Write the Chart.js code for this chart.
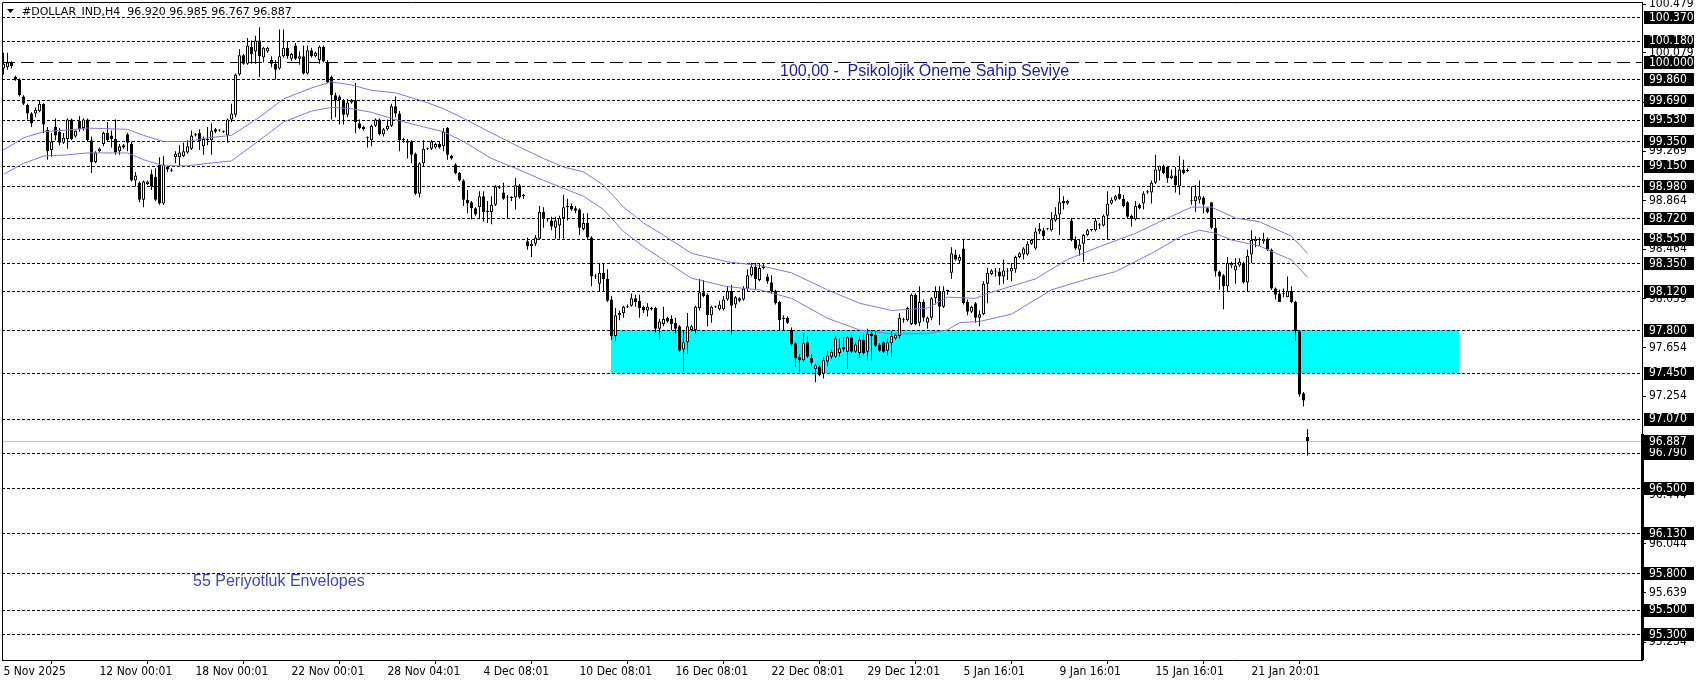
<!DOCTYPE html>
<html>
<head>
<meta charset="utf-8">
<script src="https://cdn.jsdelivr.net/npm/chart.js@4.4.1/dist/chart.umd.min.js"></script>
<style>
    html, body { margin: 0; padding: 0; background: #fff; }
</style>
</head>
<body>
<canvas id="grafico" width="1699" height="684"></canvas>
<script>
// H4 candles, 5 Nov 2025 -> 23 Jan 2026
const opens = [
    99.95, 99.96, 100.00, 99.88, 99.86, 99.72, 99.65, 99.58, 99.58, 99.60,
    99.66, 99.445, 99.28, 99.47, 99.43, 99.34, 99.37, 99.53, 99.39, 99.52,
    99.46, 99.53, 99.36, 99.18, 99.27, 99.33, 99.42, 99.40, 99.37, 99.27,
    99.32, 99.41, 99.33, 99.03, 99.01, 98.87, 99.00, 99.08, 99.06, 99.16,
    98.84, 99.14, 99.12, 99.22, 99.22, 99.23, 99.26, 99.29, 99.40, 99.42,
    99.31, 99.36, 99.36, 99.45, 99.44, 99.43, 99.40, 99.53, 99.57, 99.90,
    100.06, 99.99, 100.13, 100.09, 100.18, 100.04, 100.09, 100.02, 99.99, 99.95,
    100.05, 100.12, 100.03, 100.14, 100.03, 100.05, 99.91, 100.10, 100.05, 100.02,
    100.13, 100.00, 99.88, 99.73, 99.72, 99.69, 99.57, 99.67, 99.69, 99.50,
    99.47, 99.385, 99.36, 99.48, 99.53, 99.41, 99.45, 99.48, 99.64, 99.58,
    99.37, 99.355, 99.35, 99.25, 98.92, 99.17, 99.29, 99.29, 99.30, 99.33,
    99.31, 99.46, 99.23, 99.16, 99.09, 99.03, 98.87, 98.85, 98.80, 98.81,
    98.90, 98.775, 98.77, 98.83, 98.97, 98.93, 98.895, 98.89, 98.89, 98.99,
    98.90, 98.53, 98.49, 98.51, 98.55, 98.77, 98.71, 98.70, 98.64, 98.66,
    98.72, 98.81, 98.82, 98.80, 98.79, 98.63, 98.68, 98.56, 98.245, 98.18,
    98.27, 98.22, 98.05, 97.75, 97.92, 97.94, 97.99, 98.00, 98.06, 98.04,
    97.99, 97.96, 97.98, 97.98, 97.81, 97.85, 97.90, 97.89, 97.86, 97.83,
    97.64, 97.70, 97.80, 97.80, 97.98, 98.11, 98.09, 97.92, 97.99, 97.97,
    97.97, 98.05, 98.12, 98.01, 98.06, 98.05, 98.14, 98.25, 98.32, 98.21,
    98.31, 98.24, 98.19, 98.12, 98.03, 97.89, 97.90, 97.80, 97.69, 97.58,
    97.55, 97.70, 97.57, 97.48, 97.50, 97.44, 97.54, 97.58, 97.58, 97.61,
    97.66, 97.62, 97.74, 97.62, 97.61, 97.72, 97.62, 97.77, 97.76, 97.68,
    97.70, 97.63, 97.69, 97.73, 97.75, 97.885, 97.88, 97.85, 98.09, 97.86,
    98.03, 97.86, 97.90, 98.06, 98.12, 97.99, 98.125, 98.27, 98.42, 98.37,
    98.47, 98.03, 97.95, 98.02, 97.90, 97.93, 98.18, 98.26, 98.285, 98.28,
    98.24, 98.285, 98.28, 98.30, 98.40, 98.42, 98.42, 98.51, 98.47, 98.61,
    98.62, 98.632, 98.62, 98.70, 98.75, 98.86, 98.84, 98.70, 98.54, 98.46,
    98.51, 98.58, 98.62, 98.62, 98.66, 98.66, 98.74, 98.84, 98.87, 98.92,
    98.88, 98.85, 98.74, 98.71, 98.83, 98.84, 98.93, 98.93, 99.01, 99.11,
    99.15, 99.14, 99.05, 99.07, 98.98, 99.12, 99.112, 98.862, 98.86, 98.87,
    98.89, 98.80, 98.85, 98.64, 98.28, 98.25, 98.16, 98.33, 98.29, 98.33,
    98.35, 98.19, 98.42, 98.53, 98.54, 98.53, 98.55, 98.46, 98.14, 98.10,
    98.102, 98.07, 98.12, 98.03, 97.79, 97.28, 96.92
];
const highs = [
    100.08, 100.08, 100.01, 99.89, 99.87, 99.73, 99.66, 99.59, 99.63, 99.685,
    99.665, 99.47, 99.42, 99.54, 99.46, 99.42, 99.54, 99.54, 99.44, 99.56,
    99.54, 99.54, 99.39, 99.27, 99.30, 99.43, 99.51, 99.44, 99.53, 99.33,
    99.33, 99.42, 99.35, 99.10, 99.02, 99.03, 99.03, 99.12, 99.13, 99.22,
    99.23, 99.15, 99.13, 99.27, 99.32, 99.34, 99.36, 99.44, 99.42, 99.45,
    99.39, 99.47, 99.50, 99.46, 99.45, 99.44, 99.54, 99.66, 99.91, 100.11,
    100.07, 100.20, 100.18, 100.22, 100.29, 100.13, 100.13, 100.05, 100.02, 100.27,
    100.27, 100.17, 100.08, 100.16, 100.09, 100.14, 100.14, 100.12, 100.09, 100.14,
    100.14, 100.02, 99.89, 99.75, 99.73, 99.70, 99.70, 99.70, 99.83, 99.53,
    99.48, 99.39, 99.49, 99.54, 99.54, 99.46, 99.53, 99.66, 99.72, 99.60,
    99.38, 99.37, 99.36, 99.26, 99.18, 99.36, 99.30, 99.36, 99.34, 99.35,
    99.46, 99.47, 99.24, 99.17, 99.10, 99.04, 98.95, 98.86, 98.81, 98.94,
    98.94, 98.86, 98.90, 98.99, 98.99, 99.01, 98.91, 98.90, 99.05, 99.00,
    98.92, 98.56, 98.54, 98.58, 98.82, 98.81, 98.72, 98.73, 98.73, 98.74,
    98.91, 98.88, 98.84, 98.82, 98.80, 98.76, 98.76, 98.57, 98.26, 98.35,
    98.35, 98.30, 98.08, 97.98, 97.96, 98.00, 98.01, 98.10, 98.09, 98.09,
    98.00, 98.02, 97.99, 97.99, 97.89, 97.99, 97.91, 97.92, 97.90, 97.84,
    97.80, 97.94, 97.84, 98.00, 98.22, 98.21, 98.10, 98.00, 98.00, 98.04,
    98.08, 98.16, 98.17, 98.08, 98.07, 98.16, 98.30, 98.35, 98.35, 98.35,
    98.34, 98.26, 98.25, 98.13, 98.04, 97.92, 97.91, 97.82, 97.70, 97.60,
    97.77, 97.75, 97.60, 97.52, 97.51, 97.58, 97.63, 97.64, 97.75, 97.73,
    97.74, 97.75, 97.76, 97.70, 97.75, 97.76, 97.81, 97.80, 97.79, 97.69,
    97.71, 97.73, 97.79, 97.77, 97.94, 97.90, 97.99, 98.10, 98.10, 98.16,
    98.05, 97.91, 98.07, 98.16, 98.16, 98.16, 98.13, 98.48, 98.46, 98.42,
    98.55, 98.05, 98.00, 98.03, 97.96, 98.20, 98.31, 98.30, 98.31, 98.31,
    98.38, 98.31, 98.35, 98.41, 98.44, 98.48, 98.53, 98.55, 98.64, 98.68,
    98.64, 98.64, 98.77, 98.81, 98.97, 98.90, 98.87, 98.72, 98.57, 98.54,
    98.59, 98.63, 98.63, 98.72, 98.68, 98.75, 98.94, 98.89, 98.91, 98.98,
    98.91, 98.86, 98.75, 98.86, 98.84, 98.94, 98.95, 99.03, 99.24, 99.15,
    99.16, 99.15, 99.12, 99.14, 99.23, 99.20, 99.13, 98.98, 98.99, 99.03,
    98.90, 98.81, 98.85, 98.72, 98.29, 98.26, 98.40, 98.36, 98.39, 98.39,
    98.36, 98.46, 98.62, 98.57, 98.56, 98.60, 98.56, 98.47, 98.15, 98.13,
    98.14, 98.24, 98.16, 98.04, 97.79, 97.29, 96.985
];
const lows = [
    99.90, 99.94, 99.95, 99.85, 99.72, 99.65, 99.53, 99.47, 99.55, 99.59,
    99.42, 99.20, 99.225, 99.36, 99.32, 99.33, 99.29, 99.36, 99.38, 99.43,
    99.44, 99.35, 99.09, 99.17, 99.26, 99.31, 99.35, 99.30, 99.24, 99.24,
    99.29, 99.27, 99.02, 98.98, 98.85, 98.81, 98.99, 98.95, 98.86, 98.83,
    98.83, 99.10, 99.10, 99.17, 99.14, 99.22, 99.25, 99.28, 99.39, 99.28,
    99.24, 99.32, 99.24, 99.42, 99.43, 99.42, 99.34, 99.51, 99.55, 99.89,
    99.98, 99.98, 99.99, 99.99, 99.88, 100.00, 100.08, 99.96, 99.86, 99.94,
    100.04, 100.03, 100.01, 100.02, 99.98, 99.90, 99.90, 100.04, 100.04, 99.99,
    100.00, 99.83, 99.53, 99.55, 99.49, 99.49, 99.55, 99.66, 99.42, 99.45,
    99.44, 99.30, 99.31, 99.47, 99.40, 99.39, 99.44, 99.47, 99.55, 99.27,
    99.34, 99.21, 99.17, 98.91, 98.89, 99.14, 99.28, 99.28, 99.29, 99.29,
    99.27, 99.20, 99.20, 99.08, 99.02, 98.82, 98.76, 98.71, 98.74, 98.71,
    98.69, 98.68, 98.67, 98.82, 98.96, 98.87, 98.72, 98.86, 98.79, 98.88,
    98.88, 98.46, 98.40, 98.49, 98.54, 98.64, 98.69, 98.62, 98.55, 98.55,
    98.55, 98.70, 98.78, 98.76, 98.58, 98.62, 98.55, 98.16, 98.22, 98.12,
    98.12, 98.03, 97.72, 97.71, 97.88, 97.90, 97.98, 97.99, 97.99, 97.90,
    97.94, 97.91, 97.96, 97.78, 97.72, 97.83, 97.86, 97.80, 97.77, 97.62,
    97.46, 97.60, 97.79, 97.77, 97.96, 98.07, 97.83, 97.86, 97.98, 97.96,
    97.96, 98.04, 97.76, 97.98, 98.03, 98.04, 98.12, 98.24, 98.13, 98.20,
    98.30, 98.18, 98.10, 98.01, 97.80, 97.80, 97.85, 97.67, 97.50, 97.45,
    97.54, 97.57, 97.50, 97.37, 97.42, 97.40, 97.50, 97.56, 97.57, 97.58,
    97.62, 97.48, 97.61, 97.61, 97.57, 97.60, 97.55, 97.55, 97.66, 97.62,
    97.61, 97.59, 97.58, 97.72, 97.73, 97.86, 97.87, 97.84, 97.84, 97.83,
    97.87, 97.81, 97.88, 98.01, 97.84, 97.98, 98.09, 98.22, 98.37, 98.35,
    98.01, 97.92, 97.94, 97.86, 97.83, 97.92, 98.02, 98.25, 98.24, 98.17,
    98.18, 98.21, 98.20, 98.27, 98.39, 98.38, 98.41, 98.50, 98.46, 98.59,
    98.54, 98.62, 98.61, 98.69, 98.58, 98.79, 98.83, 98.53, 98.46, 98.41,
    98.36, 98.57, 98.61, 98.61, 98.63, 98.65, 98.54, 98.83, 98.86, 98.87,
    98.81, 98.72, 98.65, 98.70, 98.79, 98.79, 98.92, 98.84, 99.00, 99.03,
    99.08, 99.01, 99.04, 98.93, 98.91, 99.08, 99.10, 98.83, 98.77, 98.84,
    98.76, 98.76, 98.63, 98.24, 98.13, 97.97, 98.12, 98.31, 98.18, 98.32,
    98.18, 98.12, 98.35, 98.48, 98.49, 98.51, 98.45, 98.13, 98.05, 98.03,
    98.07, 98.07, 98.02, 97.71, 97.25, 97.17, 96.767
];
const closes = [
    99.99, 100.00, 99.97, 99.86, 99.73, 99.66, 99.58, 99.50, 99.61, 99.66,
    99.49, 99.27, 99.35, 99.40, 99.34, 99.38, 99.53, 99.37, 99.44, 99.45,
    99.53, 99.36, 99.18, 99.26, 99.29, 99.42, 99.36, 99.37, 99.26, 99.31,
    99.30, 99.34, 99.03, 99.07, 98.87, 99.02, 99.02, 98.98, 98.87, 98.84,
    99.16, 99.12, 99.11, 99.25, 99.26, 99.27, 99.31, 99.40, 99.41, 99.35,
    99.37, 99.37, 99.44, 99.43, 99.44, 99.43, 99.53, 99.58, 99.90, 100.06,
    99.99, 100.14, 100.07, 100.18, 100.05, 100.12, 100.12, 99.99, 99.94, 100.05,
    100.12, 100.05, 100.07, 100.03, 100.05, 99.91, 100.10, 100.05, 100.08, 100.13,
    100.01, 99.84, 99.73, 99.69, 99.69, 99.57, 99.67, 99.69, 99.51, 99.46,
    99.45, 99.38, 99.48, 99.53, 99.41, 99.45, 99.48, 99.64, 99.58, 99.36,
    99.36, 99.34, 99.24, 98.92, 99.17, 99.29, 99.29, 99.35, 99.33, 99.30,
    99.43, 99.24, 99.21, 99.09, 99.03, 98.87, 98.84, 98.80, 98.75, 98.90,
    98.77, 98.77, 98.83, 98.98, 98.98, 98.88, 98.89, 98.885, 98.99, 98.89,
    98.91, 98.49, 98.51, 98.56, 98.77, 98.71, 98.71, 98.65, 98.70, 98.72,
    98.81, 98.82, 98.79, 98.78, 98.64, 98.68, 98.56, 98.24, 98.24, 98.27,
    98.22, 98.04, 97.75, 97.92, 97.94, 97.99, 98.00, 98.06, 98.03, 97.98,
    97.96, 97.99, 97.97, 97.81, 97.87, 97.89, 97.87, 97.85, 97.81, 97.63,
    97.70, 97.83, 97.83, 97.99, 98.11, 98.08, 97.92, 97.99, 97.99, 98.01,
    98.05, 98.12, 98.00, 98.07, 98.04, 98.14, 98.25, 98.32, 98.22, 98.31,
    98.33, 98.20, 98.12, 98.02, 97.88, 97.90, 97.86, 97.68, 97.57, 97.55,
    97.69, 97.58, 97.53, 97.51, 97.43, 97.55, 97.59, 97.62, 97.73, 97.65,
    97.64, 97.74, 97.62, 97.68, 97.72, 97.61, 97.77, 97.75, 97.67, 97.63,
    97.62, 97.70, 97.75, 97.76, 97.90, 97.88, 97.98, 98.09, 97.85, 98.03,
    97.90, 97.90, 98.06, 98.12, 97.99, 98.12, 98.12, 98.43, 98.38, 98.40,
    98.02, 97.95, 97.99, 97.90, 97.93, 98.18, 98.27, 98.29, 98.28, 98.24,
    98.29, 98.28, 98.31, 98.40, 98.43, 98.47, 98.51, 98.54, 98.61, 98.63,
    98.57, 98.628, 98.71, 98.75, 98.85, 98.84, 98.86, 98.54, 98.47, 98.50,
    98.58, 98.62, 98.63, 98.70, 98.67, 98.74, 98.84, 98.87, 98.90, 98.88,
    98.82, 98.73, 98.71, 98.82, 98.80, 98.92, 98.94, 99.01, 99.12, 99.15,
    99.09, 99.05, 99.07, 98.99, 99.12, 99.09, 99.108, 98.858, 98.90, 98.90,
    98.83, 98.77, 98.64, 98.28, 98.24, 98.16, 98.35, 98.35, 98.33, 98.36,
    98.19, 98.41, 98.54, 98.55, 98.55, 98.55, 98.46, 98.14, 98.09, 98.03,
    98.098, 98.12, 98.03, 97.79, 97.27, 97.22, 96.887
];

// 55-period envelopes, read at a few bars
const upperBars = [0, 5, 10, 16, 21, 31, 35, 40, 46, 51, 57, 64, 70, 77, 82, 87, 92, 98, 105, 110, 115, 122, 128, 135, 140, 145, 150, 155, 160, 165, 172, 181, 189, 197, 206, 214, 222, 231, 236, 243, 246, 258, 266, 274, 283, 291, 297, 302, 308, 314, 322, 326];
const upperVals = [99.28, 99.38, 99.43, 99.445, 99.46, 99.45, 99.40, 99.35, 99.35, 99.38, 99.40, 99.55, 99.70, 99.79, 99.84, 99.815, 99.77, 99.75, 99.68, 99.62, 99.54, 99.42, 99.32, 99.21, 99.14, 99.10, 98.99, 98.81, 98.68, 98.58, 98.43, 98.36, 98.33, 98.27, 98.13, 98.02, 97.96, 97.98, 98.07, 98.06, 98.10, 98.22, 98.38, 98.485, 98.595, 98.72, 98.81, 98.81, 98.72, 98.69, 98.57, 98.43];
const lowerBars = [0, 5, 10, 16, 21, 31, 35, 40, 46, 51, 57, 64, 70, 77, 82, 87, 92, 98, 105, 110, 115, 122, 128, 135, 140, 145, 150, 155, 160, 165, 172, 181, 189, 197, 206, 214, 222, 231, 236, 239, 244, 252, 262, 270, 278, 287, 295, 299, 303, 307, 314, 322, 326];
const lowerVals = [99.08, 99.17, 99.23, 99.24, 99.256, 99.256, 99.20, 99.15, 99.15, 99.17, 99.19, 99.36, 99.51, 99.60, 99.63, 99.62, 99.59, 99.53, 99.47, 99.43, 99.35, 99.21, 99.13, 99.03, 98.965, 98.90, 98.79, 98.61, 98.485, 98.376, 98.225, 98.156, 98.13, 98.06, 97.896, 97.80, 97.767, 97.77, 97.80, 97.86, 97.87, 97.93, 98.13, 98.21, 98.28, 98.43, 98.58, 98.62, 98.595, 98.54, 98.49, 98.376, 98.233];

// horizontal levels and the support zone
const levels = [100.370, 100.180, 99.860, 99.690, 99.530, 99.350, 99.150, 98.980, 98.720, 98.550, 98.350, 98.120, 97.800, 97.450, 97.070, 96.790, 96.500, 96.130, 95.800, 95.500, 95.300];
const psychLevel = 100.000;
const bidPrice = 96.887;
const zonePrices = [97.450, 97.800];
const zoneBars = [151.9, 363.9];

// axes
const priceTicks = [100.479, 100.079, 99.674, 99.269, 98.864, 98.464, 98.059, 97.654, 97.254, 96.849, 96.444, 96.044, 95.639, 95.234];
const timeBars = [0, 24, 48, 72, 96, 120, 144, 168, 192, 216, 240, 264, 288, 312];
const timeLabels = ['5 Nov 2025', '12 Nov 00:01', '18 Nov 00:01', '22 Nov 00:01', '28 Nov 04:01', '4 Dec 08:01', '10 Dec 08:01', '16 Dec 08:01', '22 Dec 08:01', '29 Dec 12:01', '5 Jan 16:01', '9 Jan 16:01', '15 Jan 16:01', '21 Jan 20:01'];

const FONT = "'DejaVu Sans Condensed', 'DejaVu Sans', sans-serif";
Chart.defaults.font.family = FONT;
Chart.defaults.font.size = 12;
Chart.defaults.color = '#000';

const bars = opens.map((o, i) => i);
const wicks = bars.map(i => ({ x: i, y: [lows[i], highs[i]] }));
const bodies = bars.map(i => ({ x: i, y: [opens[i], closes[i]] }));
const bodyColors = bars.map(i => closes[i] >= opens[i] ? '#ffffff' : '#000000');

const overlay = {
    id: 'overlay',
    beforeDatasetsDraw(chart) {
        const { ctx, chartArea: a, scales: { x, y } } = chart;
        ctx.save();
        // zone
        const zx1 = x.getPixelForValue(zoneBars[0]), zx2 = x.getPixelForValue(zoneBars[1]);
        const zy1 = y.getPixelForValue(zonePrices[1]), zy2 = y.getPixelForValue(zonePrices[0]);
        ctx.fillStyle = '#00ffff';
        ctx.fillRect(Math.round(zx1), Math.round(zy1), Math.round(zx2 - zx1), Math.round(zy2 - zy1));
        // bid line
        ctx.strokeStyle = '#c0c0c0';
        ctx.lineWidth = 1;
        let py = Math.round(y.getPixelForValue(bidPrice)) + 0.5;
        ctx.beginPath(); ctx.moveTo(a.left, py); ctx.lineTo(a.right, py); ctx.stroke();
        // dotted levels
        ctx.strokeStyle = '#000';
        ctx.setLineDash([3, 2]);
        levels.forEach(v => {
            const p = Math.round(y.getPixelForValue(v)) + 0.5;
            ctx.beginPath(); ctx.moveTo(a.left, p); ctx.lineTo(a.right, p); ctx.stroke();
        });
        // 100.00 line
        ctx.setLineDash([13, 6]);
        py = Math.round(y.getPixelForValue(psychLevel)) + 0.5;
        ctx.beginPath(); ctx.moveTo(a.left, py); ctx.lineTo(a.right, py); ctx.stroke();
        ctx.restore();
    },
    afterDraw(chart) {
        const { ctx, chartArea: a, scales: { y } } = chart;
        ctx.save();
        // frame
        ctx.strokeStyle = '#000';
        ctx.lineWidth = 1;
        ctx.beginPath();
        ctx.moveTo(2.5, a.bottom); ctx.lineTo(2.5, 2.5); ctx.lineTo(a.right, 2.5);
        ctx.stroke();
        ctx.fillStyle = '#000';
        ctx.fillRect(a.right - 1, y.getPixelForValue(bidPrice) - 7, 3, a.bottom - y.getPixelForValue(bidPrice) + 7);
        // price boxes
        ctx.font = '12px ' + FONT;
        ctx.textBaseline = 'middle';
        ctx.textAlign = 'left';
        levels.concat([psychLevel, bidPrice]).forEach(v => {
            const p = y.getPixelForValue(v);
            ctx.fillStyle = '#000';
            ctx.fillRect(a.right + 2, Math.round(p) - 6, 50, 13);
            ctx.fillStyle = '#fff';
            ctx.fillText(v.toFixed(3), a.right + 7, p + 0.5);
        });
        // header
        ctx.fillStyle = '#000';
        ctx.beginPath(); ctx.moveTo(7, 9); ctx.lineTo(14, 9); ctx.lineTo(10.5, 13); ctx.closePath(); ctx.fill();
        ctx.font = "11px 'DejaVu Sans', sans-serif";
        ctx.fillText('#DOLLAR_IND,H4  96.920 96.985 96.767 96.887', 22, 12);
        // notes
        ctx.font = "16px 'Liberation Sans', Arial, sans-serif";
        ctx.fillStyle = '#1c1c96';
        ctx.fillText('100,00 -  Psikolojik Öneme Sahip Seviye', 780, 72);
        ctx.fillStyle = '#4646aa';
        ctx.fillText('55 Periyotluk Envelopes', 193, 582);
        ctx.restore();
    }
};

new Chart(document.getElementById('grafico'), {
    type: 'bar',
    data: {
        datasets: [
            {
                type: 'line',
                data: upperBars.map((b, k) => ({ x: b, y: upperVals[k] })),
                borderColor: '#9370db',
                borderWidth: 1,
                pointRadius: 0,
                order: 0
            },
            {
                type: 'line',
                data: lowerBars.map((b, k) => ({ x: b, y: lowerVals[k] })),
                borderColor: '#9370db',
                borderWidth: 1,
                pointRadius: 0,
                order: 0
            },
            {
                data: bodies,
                backgroundColor: bodyColors,
                borderColor: '#000',
                borderWidth: 1,
                borderSkipped: false,
                barThickness: 3,
                minBarLength: 1,
                inflateAmount: 0,
                grouped: false,
                order: 1
            },
            {
                data: wicks,
                backgroundColor: '#000',
                borderWidth: 0,
                barThickness: 1,
                inflateAmount: 0,
                grouped: false,
                order: 2
            }
        ]
    },
    options: {
        responsive: false,
        animation: false,
        devicePixelRatio: 1,
        layout: { padding: { left: 2, top: 2, right: 0, bottom: 0 } },
        plugins: { legend: { display: false }, tooltip: { enabled: false } },
        scales: {
            x: {
                type: 'linear',
                min: -0.375,
                max: 409.625,
                offset: false,
                afterFit: s => { s.height = 24; s.paddingLeft = 0; s.paddingRight = 0; },
                afterBuildTicks: s => { s.ticks = timeBars.map(v => ({ value: v })); },
                ticks: {
                    autoSkip: false, maxRotation: 0, minRotation: 0, align: 'start', padding: 1,
                    callback: (v, i) => timeLabels[i]
                },
                grid: { drawOnChartArea: false, drawTicks: true, tickLength: 4, color: '#000' },
                border: { display: true, color: '#000' }
            },
            y: {
                position: 'right',
                min: 95.086,
                max: 100.497,
                afterFit: s => { s.width = 57; s.paddingTop = 0; s.paddingBottom = 0; },
                afterBuildTicks: s => { s.ticks = priceTicks.map(v => ({ value: v })); },
                ticks: { autoSkip: false, padding: 3, callback: v => v.toFixed(3) },
                grid: { drawOnChartArea: false, drawTicks: true, tickLength: 4, color: '#000' },
                border: { display: true, color: '#000' }
            }
        }
    },
    plugins: [overlay]
});
</script>
</body>
</html>
